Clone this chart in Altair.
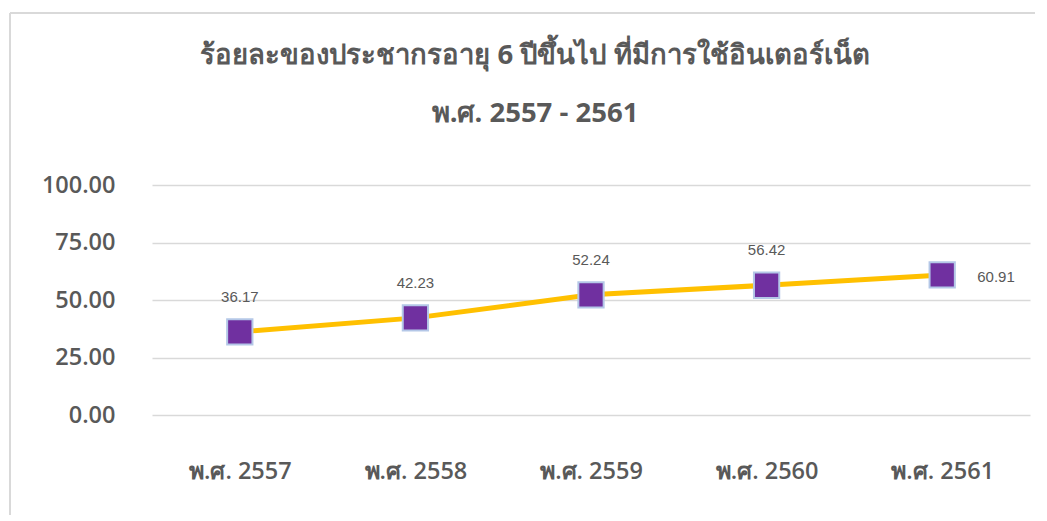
import altair as alt
import pandas as pd

years = ["พ.ศ. 2557", "พ.ศ. 2558", "พ.ศ. 2559", "พ.ศ. 2560", "พ.ศ. 2561"]
values = [36.17, 42.23, 52.24, 56.42, 60.91]
label_pos = ["above", "above", "above", "above", "right"]
y_ticks = [0, 25, 50, 75, 100]

df = pd.DataFrame({"year": years, "value": values, "pos": label_pos})

FONT = "Open Sans"
GREY = "#595959"

x_enc = alt.X("year:N", sort=years, title=None,
              scale=alt.Scale(type="point", padding=0.5),
              axis=alt.Axis(labelFontSize=23.5, labelFontWeight=600, labelColor=GREY,
                            labelFont=FONT, labelPadding=44, ticks=False, domain=False,
                            grid=False, labelAngle=0))
y_enc = alt.Y("value:Q", title=None,
              scale=alt.Scale(domain=[0, 100]),
              axis=alt.Axis(values=y_ticks, format=".2f", labelFontSize=23.5,
                            labelFontWeight=600, labelColor=GREY, labelFont=FONT,
                            labelPadding=37, ticks=False, domain=False,
                            gridColor="#D9D9D9", gridWidth=1.5))

base = alt.Chart(df).encode(x=x_enc, y=y_enc)

line = base.mark_line(color="#FFC000", strokeWidth=5)
pts = base.mark_point(shape="square", filled=True, size=640, color="#7030A0",
                      stroke="#B4C7E7", strokeWidth=2, opacity=1)
lab_above = base.transform_filter(alt.datum.pos == "above").mark_text(
    dy=-35, fontSize=15, color=GREY, font="Liberation Sans").encode(
    text=alt.Text("value:Q", format=".2f"))
lab_right = base.transform_filter(alt.datum.pos == "right").mark_text(
    dx=35, dy=2, align="left", fontSize=15, color=GREY, font="Liberation Sans").encode(
    text=alt.Text("value:Q", format=".2f"))

frame_top = alt.Chart(df).mark_rule(color="#D9D9D9", strokeWidth=2).encode(
    x=alt.value(-142), x2=alt.value(890), y=alt.value(-172))
frame_left = alt.Chart(df).mark_rule(color="#D9D9D9", strokeWidth=2).encode(
    x=alt.value(-142), y=alt.value(-172), y2=alt.value(330))

chart = alt.layer(frame_top, frame_left, line, pts, lab_above, lab_right).properties(
    width=878, height=230,
    autosize=alt.AutoSizeParams(type="none"),
    padding={"left": 144, "top": 177, "right": 5, "bottom": 100},
    title=alt.TitleParams(
        ["ร้อยละของประชากรอายุ 6 ปีขึ้นไป ที่มีการใช้อินเตอร์เน็ต", "พ.ศ. 2557 - 2561"],
        fontSize=27.5, fontWeight="bold", color=GREY, font=FONT,
        anchor="middle", dx=-56, lineHeight=58, offset=0, dy=137, baseline="alphabetic"),
).configure_view(stroke=None)

chart.save("out.html", embed_options={"renderer": "svg", "actions": False})
